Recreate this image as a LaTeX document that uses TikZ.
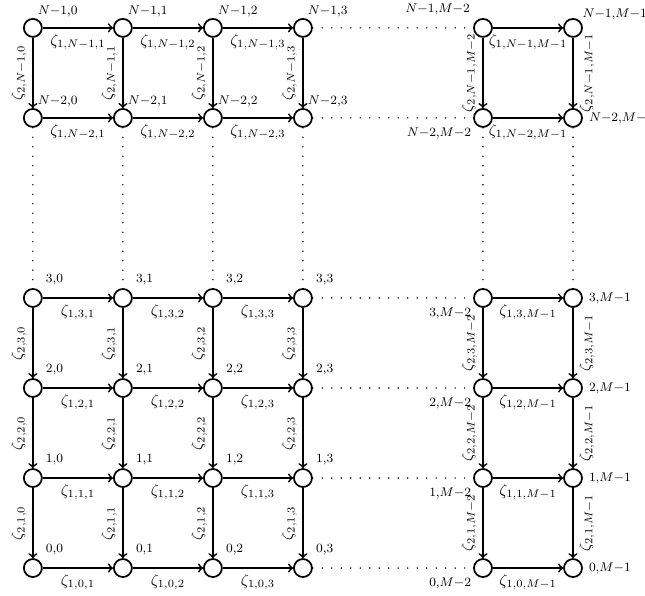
\documentclass[tikz,border=0pt]{standalone}
\usetikzlibrary{positioning}

\tikzset{
  vertex/.style={draw, circle, minimum size=0.4cm, inner sep=0pt},
  lbl/.style={font=\footnotesize},
  gap/.style={line width=1pt, line cap=round, dash pattern=on 0pt off 6pt},
}

\begin{document}
\begin{tikzpicture}[line width=1.1pt]
    \useasboundingbox (-0.73,-0.6) rectangle (13.6,12.62);

    % The lattice points
    \foreach \r in {0,1,2,3,5,6}
        \foreach \c in {0,1,2,3,5,6}
            \node (n\r\c) [vertex] at (2*\c,2*\r) {};

    % Their names
    \foreach \r in {0,1,2,3} {
        \foreach \c in {0,1,2,3}
            \node (l\r\c) [lbl, above right] at (n\r\c.north east) {$\r{,}\c$};
    }
    \foreach \r/\rl in {5/N{-}2,6/N{-}1} {
        \foreach \c in {0,1,2,3}
            \node (l\r\c) [lbl, above right, xshift=-0.18cm, yshift=-0.05cm] at (n\r\c.north east) {$\rl{,}\c$};
    }
    \foreach \r/\rl in {0/0,1/1,2/2,3/3,5/N{-}2} {
        \node (l\r5) [lbl, below left, inner sep=2.5pt, yshift=0.05cm] at (n\r5.south west) {$\rl{,}M{-}2$};
        \node (l\r6) [lbl, right] at (n\r6.east) {$\rl{,}M{-}1$};
    }
    \node (l65) [lbl, above left] at (n65.north west) {$N{-}1{,}M{-}2$};
    \node (l66) [lbl, above right, xshift=-0.08cm, yshift=-0.11cm] at (n66.north east) {$N{-}1{,}M{-}1$};

    % Horizontal links
    \foreach \r/\rl in {0/0,1/1,2/2,3/3,5/N{-}2,6/N{-}1} {
        \foreach \a/\b/\bl in {0/1/1,1/2/2,2/3/3,5/6/M{-}1}
            \draw[->] (n\r\a) -- node [below] {$\zeta_{1,\rl,\bl}$} (n\r\b);
        \draw[gap] (n\r3) -- (n\r5);
    }

    % Vertical links
    \foreach \c/\cl/\side in {0/0/south,1/1/south,2/2/south,3/3/south,5/M{-}2/south,6/M{-}1/north} {
        \foreach \a/\al/\b in {6/N{-}1/5,3/3/2,2/2/1,1/1/0}
            \draw[->] (n\a\c) -- node [rotate=90, anchor=\side] {$\zeta_{2,\al,\cl}$} (n\b\c);
        \draw[gap] (n5\c) -- (n3\c);
    }
\end{tikzpicture}
\end{document}
